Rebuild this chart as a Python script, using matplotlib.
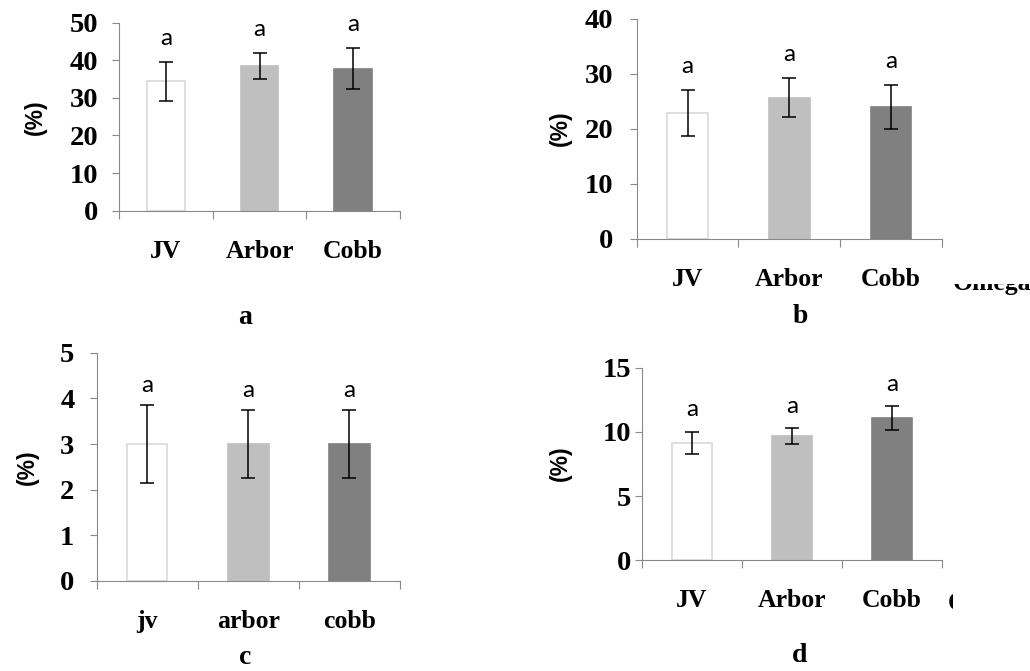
import matplotlib
matplotlib.use("Agg")
import matplotlib.pyplot as plt
from matplotlib.transforms import Bbox

# ---------------- data ----------------
labels_upper = ["JV", "Arbor", "Cobb"]
labels_lower = ["jv", "arbor", "cobb"]

a_means = [34.4, 38.4, 37.8]
a_errs = [5.1, 3.5, 5.4]

b_means = [22.9, 25.7, 24.0]
b_errs = [4.2, 3.5, 4.0]

c_means = [3.0, 3.0, 3.0]
c_errs = [0.86, 0.74, 0.75]

d_means = [9.16, 9.66, 11.08]
d_errs = [0.87, 0.61, 0.90]

sig_letters = ["a", "a", "a"]
panel_names = ["a", "b", "c", "d"]
stray_label = "Omega"

a_ticks = [0, 10, 20, 30, 40, 50]
b_ticks = [0, 10, 20, 30, 40]
c_ticks = [0, 1, 2, 3, 4, 5]
d_ticks = [0, 5, 10, 15]

# ---------------- style ----------------
W, H = 1030, 671
fig = plt.figure(figsize=(W / 100, H / 100), dpi=100)

bar_faces = ["#ffffff", "#bfbfbf", "#808080"]
bar_edges = ["#d9d9d9", "#bfbfbf", "#808080"]
spine_col = "#898989"
serif = "Liberation Serif"
sans = "Liberation Sans"
letter_font = "Lato"


def px_rect(left, right, top, bottom):
    return [left / W, 1 - bottom / H, (right - left) / W, (bottom - top) / H]


panels = [
    dict(rect=px_rect(119, 400, 22.7, 210.7), means=a_means, errs=a_errs, labels=labels_upper,
         ticks=a_ticks, ypad=10, loff=17, ylab=(35, 117), plab=(245, 318)),
    dict(rect=px_rect(636.7, 942, 19, 238.7), means=b_means, errs=b_errs, labels=labels_upper,
         ticks=b_ticks, ypad=12, loff=17, ylab=(560, 128), plab=(800, 317)),
    dict(rect=px_rect(96.7, 400, 352.7, 581), means=c_means, errs=c_errs, labels=labels_lower,
         ticks=c_ticks, ypad=11, loff=14, ylab=(27, 467), plab=(245, 658)),
    dict(rect=px_rect(642, 942, 367.7, 560.3), means=d_means, errs=d_errs, labels=labels_upper,
         ticks=d_ticks, ypad=3, loff=16, ylab=(560, 463), plab=(800, 655)),
]

for p, name in zip(panels, panel_names):
    ax = fig.add_axes(p["rect"])
    x = list(range(len(p["means"])))
    ax.bar(x, p["means"], width=0.4, color=bar_faces, edgecolor=bar_edges, linewidth=1.2, zorder=2)
    ax.errorbar(x, p["means"], yerr=p["errs"], fmt="none", ecolor="black",
                elinewidth=1.1, capsize=5, capthick=1.1, zorder=3)
    for xi, m, e, s in zip(x, p["means"], p["errs"], sig_letters):
        ax.annotate(s, (xi, m + e), xytext=(0, p["loff"]), textcoords="offset points",
                    ha="center", va="center", fontsize=17.5, family=letter_font,
                    annotation_clip=False)

    ax.set_xlim(-0.5, 2.5)
    ax.set_ylim(p["ticks"][0], p["ticks"][-1])
    for sp in ["top", "right"]:
        ax.spines[sp].set_visible(False)
    for sp in ["left", "bottom"]:
        ax.spines[sp].set_color(spine_col)
        ax.spines[sp].set_linewidth(0.8)

    ax.set_yticks(p["ticks"])
    ax.set_yticklabels([str(t) for t in p["ticks"]], fontsize=20.5, family=serif, fontweight="bold")
    ax.tick_params(axis="y", direction="out", length=5, width=0.8, color=spine_col, pad=p["ypad"])

    ax.set_xticks([-0.5, 0.5, 1.5, 2.5])
    ax.set_xticklabels([])
    ax.set_xticks(x, minor=True)
    ax.set_xticklabels(p["labels"], minor=True, fontsize=18.5, family=serif, fontweight="bold")
    ax.tick_params(axis="x", which="major", direction="out", length=5.5, width=0.8, color=spine_col)
    ax.tick_params(axis="x", which="minor", length=0, pad=21)

    fig.text(p["ylab"][0] / W, 1 - p["ylab"][1] / H, "(%)", rotation=90, ha="center", va="center",
             fontsize=16.5, family=sans, fontweight="bold")
    fig.text(p["plab"][0] / W, 1 - p["plab"][1] / H, name, ha="center", va="center",
             fontsize=20, family=serif, fontweight="bold")

# partially hidden stray labels at the right edge (cropped in the source)
t1 = fig.text(953 / W, 1 - 290 / H, stray_label, ha="left", va="baseline",
              fontsize=18.5, family=serif, fontweight="bold")
t1.set_clip_box(Bbox([[0, 0], [W, H - 284]]))
t1.set_clip_on(True)
t2 = fig.text(948 / W, 1 - 610 / H, stray_label, ha="left", va="baseline",
              fontsize=18.5, family=serif, fontweight="bold")
t2.set_clip_box(Bbox([[0, 0], [953, H]]))
t2.set_clip_on(True)

fig.savefig("out.png", dpi=100)
